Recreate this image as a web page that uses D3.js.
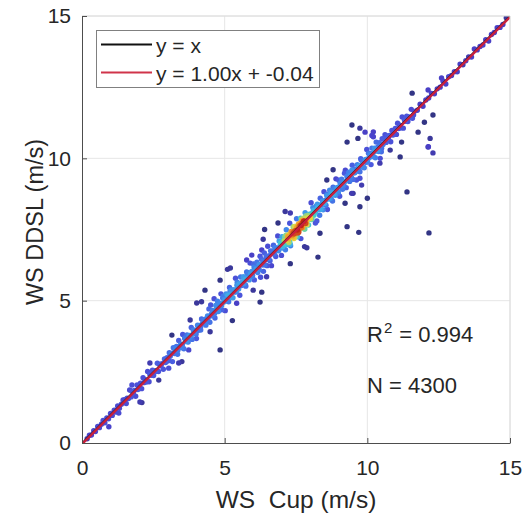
<!DOCTYPE html>
<html>
<head>
<meta charset="utf-8">
<script src="https://cdn.jsdelivr.net/npm/d3@7"></script>
<style>
  body { margin: 0; background: #fff; }
  text { font-family: "Liberation Sans", Arial, sans-serif; fill: #262626; white-space: pre; }
</style>
</head>
<body>
<svg id="chart" width="524" height="515"></svg>
<script>
// Axis ticks
const xTicks = [0, 5, 10, 15];
const yTicks = [0, 5, 10, 15];

// Fitted line and summary statistics
const fitSlope = 1.00;
const fitIntercept = -0.04;
const r2Text = "0.994";
const sampleCount = 4300;

// [WS Cup, WS DDSL] samples along the main band (m/s)
const bandLow = [
  [0.18,0.15],[0.26,0.27],[0.33,0.28],[0.41,0.43],[0.47,0.40],[0.55,0.58],[0.61,0.54],[0.68,0.66],[0.74,0.79],[0.8,0.71],
  [0.87,0.88],[0.93,0.85],[1.0,1.04],[1.06,0.97],[1.13,1.15],[1.19,1.09],[1.25,1.30],[1.31,1.22],[1.38,1.36],[1.44,1.51],
  [1.50,1.52],[1.55,1.39],[1.58,1.57],[1.63,1.56],[1.67,1.86],[1.72,1.62],[1.75,1.82],[1.80,1.76],[1.84,1.85],[1.88,1.64],
  [1.93,2.04],[1.96,1.88],[2.01,1.98],[2.05,2.10],[2.09,1.91],[2.14,2.29],[2.17,2.12],[2.22,2.22],[2.26,2.14],[2.30,2.51],
  [2.35,2.15],[2.38,2.41],[2.43,2.38],[2.47,2.56],[2.51,2.37],[2.56,2.54],[2.59,2.51],[2.64,2.80],[2.68,2.51],[2.72,2.76],
  [2.77,2.71],[2.80,2.79],[2.85,2.59],[2.89,2.95],[2.93,2.83],[2.98,3.00],
  [3.02,2.89],[3.06,3.17],[3.09,3.05],[3.13,3.15],[3.17,2.86],[3.20,3.35],[3.24,3.14],[3.28,3.26],[3.31,3.39],[3.35,3.12],
  [3.39,3.60],[3.42,3.36],[3.46,3.47],[3.50,3.35],[3.53,3.81],[3.57,3.31],[3.61,3.66],[3.64,3.59],[3.68,3.80],[3.72,3.55],
  [3.75,3.74],[3.79,3.70],[3.83,4.06],[3.86,3.64],[3.90,3.97],[3.94,3.87],[3.97,3.96],[4.01,3.67],[4.05,4.14],[4.08,3.96],
  [4.12,4.13],[4.16,3.97],[4.19,4.36],[4.23,4.20],[4.27,4.32],[4.30,4.34],[4.34,4.14],[4.38,4.38],[4.41,4.32],[4.45,4.71],
  [3.04,2.90],[3.12,3.13],[3.20,3.16],[3.28,3.32],[3.36,3.26],[3.44,3.42],[3.52,3.46],[3.60,3.69],[3.68,3.56],[3.76,3.78],
  [3.84,3.79],[3.92,3.90],[4.00,3.83],[4.08,4.11],[4.16,4.09],[4.24,4.23],[4.32,4.21],[4.40,4.46],[4.48,4.45]
];

const bandMid = [
  [4.48,4.24],[4.51,4.85],[4.54,4.53],[4.57,4.66],[4.60,4.47],[4.63,5.07],[4.66,4.39],[4.69,4.83],[4.72,4.72],[4.75,4.98],
  [4.78,4.62],[4.81,4.86],[4.84,4.79],[4.87,5.24],[4.90,4.68],[4.93,5.09],[4.96,4.94],[4.99,5.05],[5.02,4.65],[5.05,5.24],
  [5.08,4.99],[5.11,5.19],[5.14,4.96],[5.17,5.46],[5.20,5.23],[5.23,5.37],[5.26,5.38],[5.29,5.10],[5.32,5.38],[5.35,5.30],
  [5.38,5.79],[5.41,5.31],[5.44,5.65],[5.47,5.48],[5.50,5.59],[5.53,5.19],[5.56,5.83],[5.59,5.53],[5.62,5.66],[5.65,5.83],
  [5.68,5.60],[5.71,5.74],[5.74,5.51],[5.77,6.01],[5.80,5.78],[5.83,5.98],[5.86,5.73],[5.89,6.32],[5.92,5.92],[5.95,6.03],
  [5.98,5.88],[6.01,6.29],[6.04,5.73],[6.07,6.18],[6.10,6.11],[6.13,6.35],[6.16,5.99],
  [4.53,4.50],[4.59,4.61],[4.65,4.55],[4.71,4.83],[4.77,4.77],[4.83,4.91],[4.89,4.83],[4.95,5.16],[5.01,5.02],[5.07,5.12],
  [5.13,5.09],[5.19,5.33],[5.25,5.11],[5.31,5.37],[5.37,5.38],[5.43,5.54],[5.49,5.41],[5.55,5.58],[5.61,5.58],[5.67,5.83],
  [5.73,5.55],[5.79,5.88],[5.85,5.84],[5.91,5.95],[5.97,5.84],[6.03,6.18],[6.09,6.04],[6.15,6.17],[6.21,6.27],
  [6.19,6.22],[6.21,6.09],[6.24,6.56],[6.26,5.82],[6.29,6.46],[6.31,6.25],[6.34,6.39],[6.36,6.03],[6.39,6.68],[6.41,6.25],
  [6.44,6.43],[6.46,6.56],[6.49,6.23],[6.51,6.91],[6.54,6.47],[6.56,6.58],[6.59,6.40],[6.61,6.75],[6.64,6.23],[6.66,6.74],
  [6.69,6.65],[6.71,6.95],[6.74,6.64],[6.76,6.86],[6.79,6.55],[6.81,6.85],[6.84,6.76],[6.86,7.27],[6.89,6.75],[6.91,7.10],
  [6.94,6.92],[6.96,7.03],[6.99,6.59]
];

const bandCore = [
  [7.01,7.25],[7.04,6.90],[7.07,7.05],[7.10,7.24],[7.13,6.79],[7.16,7.49],[7.19,7.11],[7.22,7.26],[7.25,7.04],[7.28,7.72],
  [7.31,6.93],[7.34,7.43],[7.37,7.31],[7.40,7.60],[7.43,7.18],[7.46,7.45],[7.49,7.36],[7.52,7.88],[7.55,7.24],[7.58,7.69],
  [7.61,7.52],[7.64,7.64],[7.67,7.18],[7.70,7.86],[7.73,7.57],[7.76,7.78],[7.79,7.52],[7.82,8.09],[7.85,7.82],[7.88,7.97],
  [7.91,7.99],[7.94,7.66],[7.97,7.98],[8.00,7.88],[8.03,8.44],[8.06,7.88],[8.09,8.27],[8.12,8.07],[8.15,8.19],[8.18,7.73],
  [6.96,6.87],[6.99,6.95],[7.01,6.85],[7.04,7.10],[7.07,7.01],[7.09,7.11],[7.12,7.00],[7.15,7.30],[7.17,7.12],[7.20,7.19],
  [7.23,7.13],[7.25,7.33],[7.28,7.08],[7.31,7.31],[7.33,7.28],[7.36,7.41],[7.39,7.25],[7.41,7.38],[7.44,7.35],[7.47,7.57],
  [7.49,7.25],[7.52,7.55],[7.55,7.48],[7.57,7.55],[7.60,7.41],[7.63,7.72],[7.65,7.54],[7.68,7.64],[7.71,7.71],[7.73,7.58],
  [7.76,7.90],[7.79,7.72],[7.81,7.78],[7.84,7.71],[7.87,7.89],[7.89,7.67],[7.92,7.92],[7.95,7.89],[7.97,8.04],[8.00,7.92],
  [8.03,7.85],[8.05,8.06],[8.08,8.03],[8.11,8.17],[8.13,8.00],[8.16,8.13],[8.19,8.11],[8.21,8.33],
  [7.18,6.97],[7.21,7.27],[7.24,7.17],[7.27,7.26],[7.30,6.98],[7.33,7.42],[7.36,7.25],[7.39,7.39],[7.42,7.24],[7.45,7.61],
  [7.48,7.45],[7.51,7.56],[7.54,7.58],[7.57,7.38],[7.60,7.59],[7.63,7.55],[7.66,7.90],[7.69,7.57],[7.72,7.82],[7.75,7.71],
  [7.78,7.80],[7.81,7.52],[7.84,7.98],[7.87,7.77],[7.90,7.88]
];

const bandHigh = [
  [8.23,7.80],[8.25,8.39],[8.28,8.20],[8.30,8.32],[8.33,8.00],[8.35,8.60],[8.38,8.21],[8.40,8.37],[8.43,8.50],[8.45,8.19],
  [8.48,8.83],[8.50,8.42],[8.53,8.53],[8.55,8.35],[8.58,8.69],[8.60,8.20],[8.63,8.69],[8.65,8.60],[8.68,8.88],[8.70,8.59],
  [8.73,8.60],[8.75,8.73],[8.78,8.50],[8.80,8.99],[8.83,8.76],[8.85,8.95],[8.88,8.70],[8.90,9.28],[8.93,8.88],[8.95,8.98],
  [8.98,8.83],[9.00,9.23],[9.03,8.67],[9.05,9.11],[9.08,9.04],[9.10,9.27],[9.13,8.91],[9.15,9.16],[9.18,9.05],[9.20,9.48],
  [9.23,9.58],[9.26,8.97],[9.29,9.37],[9.32,9.27],[9.35,9.51],[9.38,9.19],[9.41,9.41],[9.44,9.34],[9.47,9.76],[9.50,9.26],
  [9.53,9.62],[9.56,9.49],[9.59,9.60],[9.62,9.24],[9.65,9.78],[9.68,9.55],[9.71,9.73],[9.74,9.53],[9.77,9.99],[9.80,9.78],
  [9.83,9.91],[9.86,9.92],[9.89,9.67],[9.92,9.93],[9.95,9.86],[9.98,10.31],[10.01,9.87],[10.04,10.18],[10.07,10.03],[10.10,10.14],
  [10.13,9.78],[10.16,10.36],[10.19,10.09],[10.22,10.21],[10.25,10.36],[10.28,10.02],[10.31,10.57],[10.34,10.28],[10.37,10.40],[10.40,10.24],
  [10.43,10.31],[10.46,10.44],[10.49,10.23],[10.52,10.69],[10.55,10.49],[10.58,10.67],
  [8.26,8.27],[8.34,8.20],[8.42,8.41],[8.50,8.43],[8.58,8.73],[8.66,8.57],[8.74,8.80],[8.82,8.78],[8.90,8.90],[8.98,8.77],
  [9.06,9.14],[9.14,9.07],[9.22,9.19],[9.30,9.34],[9.38,9.22],[9.46,9.58],[9.54,9.49],[9.62,9.62],[9.70,9.60],[9.78,9.95],
  [9.86,9.69],[9.94,9.96],[10.02,9.98],[10.10,10.17],[10.18,10.06],[10.26,10.24],[10.34,10.27],[10.42,10.55],[10.50,10.35],
  [10.62,10.83],[10.66,10.56],[10.70,10.79],[10.74,10.71],[10.78,10.80],[10.82,10.58],[10.86,10.98],[10.90,10.82],[10.94,10.93],[10.98,11.05],
  [11.02,10.84],[11.06,11.23],[11.10,11.05],[11.14,11.16],[11.18,11.07],[11.22,11.45],[11.26,11.06],[11.30,11.35],[11.34,11.30],[11.38,11.48],
  [11.42,11.29],[11.46,11.45],[11.50,11.43],[11.54,11.72],[11.58,11.41],
  [11.65,11.65],[11.75,11.69],[11.85,11.90],[11.95,11.83],[12.05,12.05],[12.15,12.12],[12.25,12.28],[12.35,12.27],[12.45,12.44],[12.55,12.50],
  [12.65,12.72],[12.75,12.61],[12.85,12.87],[12.95,12.91],[13.05,13.04],[13.15,13.04],[13.25,13.31],[13.35,13.29],[13.45,13.43],[13.55,13.56],
  [13.65,13.56],[13.75,13.84],[13.85,13.81],[13.95,13.93],[14.05,13.98],[14.15,14.17],[14.25,14.12],[14.35,14.35],[14.45,14.42],[14.55,14.59],
  [14.65,14.60],[14.75,14.70],[14.87,14.94]
];

// [WS Cup, WS DDSL] samples lying away from the band (m/s)
const scatteredPoints = [
  [0.94,0.57],[1.29,1.05],[2.03,1.44],[2.1,1.42],[2.38,2.81],[1.75,2.04],[2.69,2.21],[3.15,3.79],[3.5,2.86],[3.39,2.81],
  [3.74,3.27],[3.04,2.63],[4.84,3.27],[4.31,5.37],[5.1,6.1],[5.27,4.3],[6.24,4.95],[6.3,5.3],[5.2,6.15],[8.8,9.6],
  [6.87,7.73],[6.4,7.5],[9.29,7.6],[9.7,7.4],[8.27,6.53],[8.34,7.37],[10.0,8.6],[7.3,8.08],[7.8,6.9],[7.88,6.86],
  [6.35,7.16],[7.3,6.3],[9.46,11.17],[9.74,11.06],[9.29,10.57],[9.67,10.7],[9.92,10.92],[11.39,8.82],[12.3,10.19],[12.13,10.4],
  [12.2,10.7],[12.3,11.52],[11.78,10.92],[12.0,11.27],[11.57,12.29],[12.13,12.4],[11.15,10.05],[10.44,9.83],[10.16,10.8],[11.2,10.57],
  [10.8,10.29],[12.16,7.38],[4.84,5.72],[4.02,4.92],[4.19,4.96],[3.79,4.32],[5.42,4.91],[6.0,5.37],[4.49,3.91],[5.77,6.43],
  [5.95,6.6],[6.47,5.84],[8.58,9.24],[7.12,8.13],[9.45,8.77],[9.22,8.42],[9.74,8.3],[6.3,6.78],[9.8,9.06],[9.74,9.3],
  [10.21,10.93],[10.21,10.76],[12.14,10.41],[11.62,11.52],[10.45,10.0],[9.5,8.77],[12.6,12.82]
];

const plot = { left: 82, right: 510, top: 16, bottom: 443 };

const svg = d3.select("#chart");
const x = d3.scaleLinear().domain([0, 15]).range([plot.left, plot.right]);
const y = d3.scaleLinear().domain([0, 15]).range([plot.bottom, plot.top]);

// grid
const grid = svg.append("g");
grid.selectAll("line.gx").data(xTicks.slice(1)).join("line")
  .attr("x1", d => x(d)).attr("x2", d => x(d))
  .attr("y1", plot.top).attr("y2", plot.bottom)
  .attr("stroke", "#e6e6e6").attr("stroke-width", 1);
grid.selectAll("line.gy").data(yTicks.slice(1)).join("line")
  .attr("y1", d => y(d)).attr("y2", d => y(d))
  .attr("x1", plot.left).attr("x2", plot.right)
  .attr("stroke", "#e6e6e6").attr("stroke-width", 1);

// density of each sample: neighbours within a small radius
const samples = [...bandLow, ...bandMid, ...bandCore, ...bandHigh, ...scatteredPoints]
  .map(([cx, cy]) => ({ cx, cy }));
const radius = 0.3;
samples.forEach(p => {
  let n = 0;
  samples.forEach(q => {
    const dx = p.cx - q.cx, dy = p.cy - q.cy;
    if (dx * dx + dy * dy < radius * radius) n++;
  });
  p.density = n;
});
const maxDensity = d3.max(samples, d => d.density);
const color = d3.scaleLinear()
  .domain([0, 0.1, 0.28, 0.42, 0.56, 0.7, 0.82, 0.93, 1])
  .range(["#2c3170", "#4a40c8", "#4b5ae0", "#4182ea", "#3fb2e8", "#45d0c4", "#ecd838", "#f29026", "#c02416"])
  .clamp(true);

svg.append("clipPath").attr("id", "plotClip")
  .append("rect").attr("x", plot.left).attr("y", plot.top)
  .attr("width", plot.right - plot.left).attr("height", plot.bottom - plot.top);

const marks = svg.append("g").attr("clip-path", "url(#plotClip)");
marks.selectAll("circle")
  .data(samples.slice().sort((a, b) => a.density - b.density))
  .join("circle")
  .attr("cx", d => x(d.cx)).attr("cy", d => y(d.cy))
  .attr("r", 2.7)
  .attr("fill", d => color(d.density / maxDensity));

// reference and fitted lines
const line = d3.line().x(d => x(d[0])).y(d => y(d[1]));
marks.append("path").datum([[0, 0], [15, 15]])
  .attr("d", line).attr("fill", "none").attr("stroke", "#1a1a1a").attr("stroke-width", 1.4);
marks.append("path").datum([[0, fitIntercept], [15, fitSlope * 15 + fitIntercept]])
  .attr("d", line).attr("fill", "none").attr("stroke", "#c91f3c")
  .attr("stroke-width", 2.4);

// box: light top/right edges
svg.append("line").attr("x1", plot.left).attr("x2", plot.right).attr("y1", plot.top).attr("y2", plot.top)
  .attr("stroke", "#dcdcdc");
svg.append("line").attr("x1", plot.right).attr("x2", plot.right).attr("y1", plot.top).attr("y2", plot.bottom)
  .attr("stroke", "#dcdcdc");

// axes
const xAxis = d3.axisBottom(x).tickValues(xTicks).tickSizeInner(-5).tickSizeOuter(0).tickPadding(17);
const yAxis = d3.axisLeft(y).tickValues(yTicks).tickSizeInner(-5).tickSizeOuter(0).tickPadding(11);
const gx = svg.append("g").attr("transform", `translate(0,${plot.bottom})`).call(xAxis);
const gy = svg.append("g").attr("transform", `translate(${plot.left},0)`).call(yAxis);
[gx, gy].forEach(g => {
  g.select(".domain").attr("stroke", "#4d4d4d");
  g.selectAll(".tick line").attr("stroke", "#4d4d4d");
  g.selectAll(".tick text").attr("font-size", 21).attr("fill", "#262626")
    .attr("font-family", '"Liberation Sans", Arial, sans-serif');
});

// axis titles
svg.append("text").attr("x", 296).attr("y", 508)
  .attr("text-anchor", "middle").attr("font-size", 24.5).text("WS  Cup (m/s)");
svg.append("text").attr("transform", `translate(43,222) rotate(-90)`)
  .attr("text-anchor", "middle").attr("font-size", 23.5).text("WS DDSL (m/s)");

// legend
const legend = svg.append("g");
legend.append("rect").attr("x", 96.5).attr("y", 30.5).attr("width", 223).attr("height", 57)
  .attr("fill", "#fff").attr("stroke", "#808080").attr("stroke-width", 1);
const legendItems = [
  { label: "y = x", color: "#111" },
  { label: `y = ${fitSlope.toFixed(2)}x + ${fitIntercept.toFixed(2)}`, color: "#d0344a" }
];
legendItems.forEach((item, i) => {
  const cy = 44.5 + i * 28;
  legend.append("line").attr("x1", 101).attr("x2", 152).attr("y1", cy).attr("y2", cy)
    .attr("stroke", item.color).attr("stroke-width", 2);
  legend.append("text").attr("x", 156).attr("y", cy + 8).attr("font-size", 21).text(item.label);
});

// statistics
const r2 = svg.append("text").attr("x", 367).attr("y", 342).attr("font-size", 22);
r2.append("tspan").text("R");
r2.append("tspan").attr("dy", -9).attr("dx", 1).attr("font-size", 15).text("2");
r2.append("tspan").attr("dy", 9).attr("dx", 7).text(`= ${r2Text}`);
svg.append("text").attr("x", 367).attr("y", 393).attr("font-size", 22).text(`N = ${sampleCount}`);
</script>
</body>
</html>
